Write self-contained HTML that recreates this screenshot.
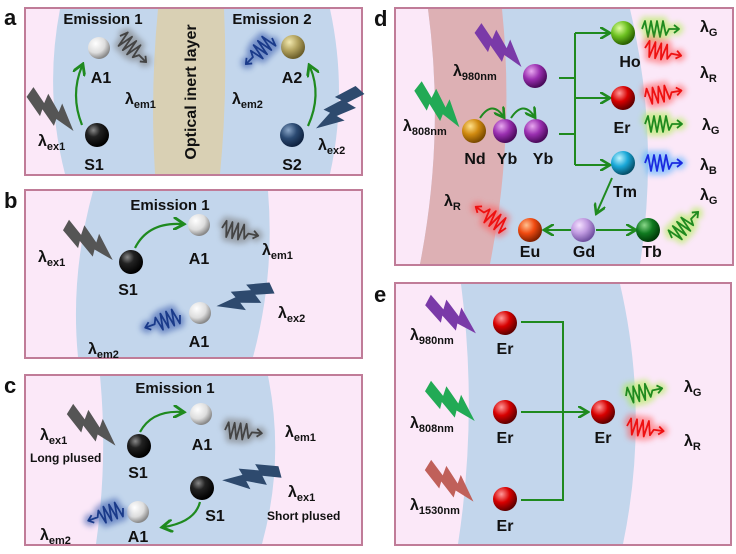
<!DOCTYPE html>
<html><head><meta charset="utf-8"><style>
html,body{margin:0;padding:0;background:#fff;}
svg{display:block;}
text{font-family:"Liberation Sans",Arial,sans-serif;font-weight:bold;fill:#111;}
.w{stroke-width:1.8}
.g{stroke-width:9;opacity:0.55}
</style></head><body>
<svg width="736" height="554" viewBox="0 0 736 554" xmlns="http://www.w3.org/2000/svg">
<defs>
<radialGradient id="gW" cx="0.35" cy="0.3" r="0.7"><stop offset="0" stop-color="#fff"/><stop offset="0.6" stop-color="#ddd"/><stop offset="1" stop-color="#888"/></radialGradient>
<radialGradient id="gK" cx="0.35" cy="0.3" r="0.7"><stop offset="0" stop-color="#888"/><stop offset="0.4" stop-color="#222"/><stop offset="1" stop-color="#000"/></radialGradient>
<radialGradient id="gGold" cx="0.35" cy="0.3" r="0.7"><stop offset="0" stop-color="#f2e9b0"/><stop offset="0.5" stop-color="#b4a460"/><stop offset="1" stop-color="#6b5e2a"/></radialGradient>
<radialGradient id="gNavy" cx="0.35" cy="0.3" r="0.7"><stop offset="0" stop-color="#8aa6c8"/><stop offset="0.5" stop-color="#2b4a72"/><stop offset="1" stop-color="#0f2240"/></radialGradient>
<radialGradient id="gPur" cx="0.35" cy="0.3" r="0.7"><stop offset="0" stop-color="#e8a8f0"/><stop offset="0.5" stop-color="#9a2fb0"/><stop offset="1" stop-color="#4a0a5a"/></radialGradient>
<radialGradient id="gOr" cx="0.35" cy="0.3" r="0.7"><stop offset="0" stop-color="#ffe08a"/><stop offset="0.5" stop-color="#d08a10"/><stop offset="1" stop-color="#7a4a00"/></radialGradient>
<radialGradient id="gRed" cx="0.35" cy="0.3" r="0.7"><stop offset="0" stop-color="#ff9a9a"/><stop offset="0.5" stop-color="#d80000"/><stop offset="1" stop-color="#600000"/></radialGradient>
<radialGradient id="gLG" cx="0.35" cy="0.3" r="0.7"><stop offset="0" stop-color="#e0ffa0"/><stop offset="0.5" stop-color="#6cc020"/><stop offset="1" stop-color="#2a6000"/></radialGradient>
<radialGradient id="gCy" cx="0.35" cy="0.3" r="0.7"><stop offset="0" stop-color="#c0f4ff"/><stop offset="0.5" stop-color="#1aa8d8"/><stop offset="1" stop-color="#05506a"/></radialGradient>
<radialGradient id="gLil" cx="0.35" cy="0.3" r="0.7"><stop offset="0" stop-color="#f4e0ff"/><stop offset="0.5" stop-color="#c09ae0"/><stop offset="1" stop-color="#7050a0"/></radialGradient>
<radialGradient id="gEu" cx="0.35" cy="0.3" r="0.7"><stop offset="0" stop-color="#ffc090"/><stop offset="0.5" stop-color="#f04a10"/><stop offset="1" stop-color="#802000"/></radialGradient>
<radialGradient id="gDG" cx="0.35" cy="0.3" r="0.7"><stop offset="0" stop-color="#8ad88a"/><stop offset="0.5" stop-color="#107a20"/><stop offset="1" stop-color="#003a08"/></radialGradient>
<filter id="blur" x="-50%" y="-80%" width="200%" height="260%"><feGaussianBlur stdDeviation="3"/></filter>
<path id="wave" d="M0,0 L3,-8 L6,8 L9,-8 L12,8 L15,-8 L18,8 L21,-8 L24,6 L27,0 L36,0 M32,-4 L37,0 L32,4" fill="none" stroke-linejoin="round"/>
<polygon id="bolt" points="0,-6 18,1 16,-9 35,0 33,-9 58,7 37,7 39,14 20,7 22,14 0,6"/>
<marker id="ah" markerWidth="6" markerHeight="6" refX="4" refY="3" orient="auto" markerUnits="strokeWidth"><path d="M0,0 L5,3 L0,6" fill="none" stroke="#1f8a1f" stroke-width="1.3"/></marker>
</defs>

<!-- ===== Panel a ===== -->
<rect x="25" y="8" width="337" height="167" fill="#fbe8f8" stroke="#c07c98" stroke-width="2"/>
<path d="M60,9 Q44,92 65,174 L330,174 Q348,92 330,9 Z" fill="#c3d6ec"/>
<path d="M158,9 Q150,92 155,174 L220,174 Q228,92 224,9 Z" fill="#d9d0b4"/>
<text x="190" y="92" font-size="16" text-anchor="middle" transform="rotate(-90 190 92)" dy="6">Optical inert layer</text>
<text x="103" y="24" font-size="15" text-anchor="middle">Emission 1</text>
<text x="272" y="24" font-size="15" text-anchor="middle">Emission 2</text>
<circle cx="99" cy="48" r="11" fill="url(#gW)"/>
<text x="101" y="83" font-size="16" text-anchor="middle">A1</text>
<circle cx="97" cy="135" r="12" fill="url(#gK)"/>
<text x="94" y="170" font-size="16" text-anchor="middle">S1</text>
<path d="M82,125 Q70,95 82,66" fill="none" stroke="#1f8a1f" stroke-width="2.2" marker-end="url(#ah)"/>
<use href="#bolt" fill="#555" transform="translate(30,92) rotate(35)"/>
<text x="38" y="146" font-size="16">λ<tspan font-size="11" dy="4">ex1</tspan></text>
<g transform="translate(120,36) rotate(45)"><use href="#wave" class="g" stroke="#777" filter="url(#blur)"/><use href="#wave" class="w" stroke="#444"/></g>
<text x="125" y="104" font-size="16">λ<tspan font-size="11" dy="4">em1</tspan></text>
<circle cx="293" cy="47" r="12" fill="url(#gGold)"/>
<text x="292" y="83" font-size="16" text-anchor="middle">A2</text>
<circle cx="292" cy="135" r="12" fill="url(#gNavy)"/>
<text x="292" y="170" font-size="16" text-anchor="middle">S2</text>
<path d="M308,126 Q322,95 310,67" fill="none" stroke="#1f8a1f" stroke-width="2.2" marker-end="url(#ah)"/>
<use href="#bolt" fill="#2e4a6e" transform="translate(360,90) rotate(132)"/>
<text x="318" y="150" font-size="16">λ<tspan font-size="11" dy="4">ex2</tspan></text>
<g transform="translate(272,38) rotate(135)"><use href="#wave" class="g" stroke="#3355aa" filter="url(#blur)"/><use href="#wave" class="w" stroke="#1a3a8a"/></g>
<text x="232" y="104" font-size="16">λ<tspan font-size="11" dy="4">em2</tspan></text>
<text x="4" y="25" font-size="22">a</text>

<!-- ===== Panel b ===== -->
<rect x="25" y="190" width="337" height="168" fill="#fbe8f8" stroke="#c07c98" stroke-width="2"/>
<path d="M93,191 Q70,275 78,357 L253,357 Q275,275 268,191 Z" fill="#c3d6ec"/>
<text x="170" y="210" font-size="15" text-anchor="middle">Emission 1</text>
<circle cx="131" cy="262" r="12" fill="url(#gK)"/>
<text x="128" y="295" font-size="16" text-anchor="middle">S1</text>
<path d="M135,248 Q148,222 182,224" fill="none" stroke="#1f8a1f" stroke-width="2.2" marker-end="url(#ah)"/>
<circle cx="199" cy="225" r="11" fill="url(#gW)"/>
<text x="199" y="264" font-size="16" text-anchor="middle">A1</text>
<use href="#bolt" fill="#555" transform="translate(66,225) rotate(30)"/>
<text x="38" y="262" font-size="16">λ<tspan font-size="11" dy="4">ex1</tspan></text>
<g transform="translate(222,228) rotate(12)"><use href="#wave" class="g" stroke="#777" filter="url(#blur)"/><use href="#wave" class="w" stroke="#444"/></g>
<text x="262" y="255" font-size="16">λ<tspan font-size="11" dy="4">em1</tspan></text>
<circle cx="200" cy="313" r="11" fill="url(#gW)"/>
<text x="199" y="347" font-size="16" text-anchor="middle">A1</text>
<use href="#bolt" fill="#2e4a6e" transform="translate(272,288) rotate(155)"/>
<text x="278" y="318" font-size="16">λ<tspan font-size="11" dy="4">ex2</tspan></text>
<g transform="translate(180,315) rotate(160)"><use href="#wave" class="g" stroke="#3355aa" filter="url(#blur)"/><use href="#wave" class="w" stroke="#1a3a8a"/></g>
<text x="88" y="354" font-size="16">λ<tspan font-size="11" dy="4">em2</tspan></text>
<text x="4" y="208" font-size="22">b</text>

<!-- ===== Panel c ===== -->
<rect x="25" y="375" width="337" height="170" fill="#fbe8f8" stroke="#c07c98" stroke-width="2"/>
<path d="M100,376 Q108,460 96,544 L262,544 Q285,460 268,376 Z" fill="#c3d6ec"/>
<text x="175" y="393" font-size="15" text-anchor="middle">Emission 1</text>
<circle cx="139" cy="446" r="12" fill="url(#gK)"/>
<text x="138" y="478" font-size="16" text-anchor="middle">S1</text>
<path d="M140,432 Q152,410 182,412" fill="none" stroke="#1f8a1f" stroke-width="2.2" marker-end="url(#ah)"/>
<circle cx="201" cy="414" r="11" fill="url(#gW)"/>
<text x="202" y="450" font-size="16" text-anchor="middle">A1</text>
<use href="#bolt" fill="#555" transform="translate(70,409) rotate(32)"/>
<text x="40" y="440" font-size="16">λ<tspan font-size="11" dy="4">ex1</tspan></text>
<text x="30" y="462" font-size="12">Long plused</text>
<g transform="translate(225,430) rotate(5)"><use href="#wave" class="g" stroke="#777" filter="url(#blur)"/><use href="#wave" class="w" stroke="#444"/></g>
<text x="285" y="437" font-size="16">λ<tspan font-size="11" dy="4">em1</tspan></text>
<circle cx="202" cy="488" r="12" fill="url(#gK)"/>
<text x="215" y="521" font-size="16" text-anchor="middle">S1</text>
<path d="M200,502 Q195,522 164,527" fill="none" stroke="#1f8a1f" stroke-width="2.2" marker-end="url(#ah)"/>
<circle cx="138" cy="512" r="11" fill="url(#gW)"/>
<text x="138" y="542" font-size="16" text-anchor="middle">A1</text>
<use href="#bolt" fill="#2e4a6e" transform="translate(280,472) rotate(165)"/>
<text x="288" y="497" font-size="16">λ<tspan font-size="11" dy="4">ex1</tspan></text>
<text x="267" y="520" font-size="12">Short plused</text>
<g transform="translate(123,508) rotate(160)"><use href="#wave" class="g" stroke="#3355aa" filter="url(#blur)"/><use href="#wave" class="w" stroke="#1a3a8a"/></g>
<text x="40" y="540" font-size="16">λ<tspan font-size="11" dy="4">em2</tspan></text>
<text x="4" y="393" font-size="22">c</text>

<!-- ===== Panel d ===== -->
<rect x="395" y="8" width="338" height="257" fill="#fbe8f8" stroke="#c07c98" stroke-width="2"/>
<path d="M428,9 Q445,136 420,264 L640,264 Q660,136 630,9 Z" fill="#c3d6ec"/>
<path d="M428,9 Q445,136 420,264 L490,264 Q515,136 502,9 Z" fill="#ddb0b4"/>
<use href="#bolt" fill="#7a3aa8" transform="translate(478,28) rotate(35)"/>
<text x="453" y="76" font-size="16">λ<tspan font-size="11" dy="4">980nm</tspan></text>
<circle cx="535" cy="76" r="12" fill="url(#gPur)"/>
<use href="#bolt" fill="#22aa55" transform="translate(418,86) rotate(38)"/>
<text x="403" y="131" font-size="16">λ<tspan font-size="11" dy="4">808nm</tspan></text>
<circle cx="474" cy="131" r="12" fill="url(#gOr)"/>
<circle cx="505" cy="131" r="12" fill="url(#gPur)"/>
<circle cx="536" cy="131" r="12" fill="url(#gPur)"/>
<text x="475" y="164" font-size="16" text-anchor="middle">Nd</text>
<text x="507" y="164" font-size="16" text-anchor="middle">Yb</text>
<text x="543" y="164" font-size="16" text-anchor="middle">Yb</text>
<path d="M480,118 Q492,100 503,116" fill="none" stroke="#1f8a1f" stroke-width="2" marker-end="url(#ah)"/>
<path d="M511,118 Q523,100 534,116" fill="none" stroke="#1f8a1f" stroke-width="2" marker-end="url(#ah)"/>
<g fill="none" stroke="#1f8a1f" stroke-width="2">
<path d="M559,78 L575,78 M559,134 L575,134 M575,33 L575,165"/>
<path d="M575,33 L608,33" marker-end="url(#ah)"/>
<path d="M575,98 L608,98" marker-end="url(#ah)"/>
<path d="M575,165 L608,165" marker-end="url(#ah)"/>
<path d="M612,178 L597,212" marker-end="url(#ah)"/>
<path d="M572,230 L546,230" marker-end="url(#ah)"/>
<path d="M596,230 L634,230" marker-end="url(#ah)"/>
</g>
<circle cx="623" cy="33" r="12" fill="url(#gLG)"/>
<text x="630" y="67" font-size="16" text-anchor="middle">Ho</text>
<circle cx="623" cy="98" r="12" fill="url(#gRed)"/>
<text x="622" y="133" font-size="16" text-anchor="middle">Er</text>
<circle cx="623" cy="163" r="12" fill="url(#gCy)"/>
<text x="625" y="197" font-size="16" text-anchor="middle">Tm</text>
<circle cx="583" cy="230" r="12" fill="url(#gLil)"/>
<text x="584" y="257" font-size="16" text-anchor="middle">Gd</text>
<circle cx="530" cy="230" r="12" fill="url(#gEu)"/>
<text x="530" y="257" font-size="16" text-anchor="middle">Eu</text>
<circle cx="648" cy="230" r="12" fill="url(#gDG)"/>
<text x="652" y="257" font-size="16" text-anchor="middle">Tb</text>
<g transform="translate(642,29)"><use href="#wave" class="g" stroke="#aaee44" filter="url(#blur)"/><use href="#wave" class="w" stroke="#1f8a1f"/></g>
<g transform="translate(645,48) rotate(12)"><use href="#wave" class="g" stroke="#ff5555" filter="url(#blur)"/><use href="#wave" class="w" stroke="#ee1111"/></g>
<g transform="translate(645,97) rotate(-10)"><use href="#wave" class="g" stroke="#ff5555" filter="url(#blur)"/><use href="#wave" class="w" stroke="#ee1111"/></g>
<g transform="translate(645,124)"><use href="#wave" class="g" stroke="#aaee44" filter="url(#blur)"/><use href="#wave" class="w" stroke="#1f8a1f"/></g>
<g transform="translate(645,163)"><use href="#wave" class="g" stroke="#44aaff" filter="url(#blur)"/><use href="#wave" class="w" stroke="#1a2ae0"/></g>
<g transform="translate(672,238) rotate(-45)"><use href="#wave" class="g" stroke="#aaee44" filter="url(#blur)"/><use href="#wave" class="w" stroke="#1f8a1f"/></g>
<g transform="translate(506,228) rotate(-145)"><use href="#wave" class="g" stroke="#ff5555" filter="url(#blur)"/><use href="#wave" class="w" stroke="#ee1111"/></g>
<text x="700" y="32" font-size="16">λ<tspan font-size="11" dy="4">G</tspan></text>
<text x="700" y="78" font-size="16">λ<tspan font-size="11" dy="4">R</tspan></text>
<text x="702" y="130" font-size="16">λ<tspan font-size="11" dy="4">G</tspan></text>
<text x="700" y="170" font-size="16">λ<tspan font-size="11" dy="4">B</tspan></text>
<text x="700" y="200" font-size="16">λ<tspan font-size="11" dy="4">G</tspan></text>
<text x="444" y="206" font-size="16">λ<tspan font-size="11" dy="4">R</tspan></text>
<text x="374" y="26" font-size="22">d</text>

<!-- ===== Panel e ===== -->
<rect x="395" y="283" width="336" height="262" fill="#fbe8f8" stroke="#c07c98" stroke-width="2"/>
<path d="M461,284 Q478,414 458,544 L623,544 Q650,414 620,284 Z" fill="#c3d6ec"/>
<use href="#bolt" fill="#7a3aa8" transform="translate(428,300) rotate(28)"/>
<use href="#bolt" fill="#22aa55" transform="translate(428,386) rotate(30)"/>
<use href="#bolt" fill="#c0605a" transform="translate(428,465) rotate(32)"/>
<text x="410" y="340" font-size="16">λ<tspan font-size="11" dy="4">980nm</tspan></text>
<text x="410" y="428" font-size="16">λ<tspan font-size="11" dy="4">808nm</tspan></text>
<text x="410" y="510" font-size="16">λ<tspan font-size="11" dy="4">1530nm</tspan></text>
<circle cx="505" cy="323" r="12" fill="url(#gRed)"/>
<circle cx="505" cy="412" r="12" fill="url(#gRed)"/>
<circle cx="505" cy="499" r="12" fill="url(#gRed)"/>
<circle cx="603" cy="412" r="12" fill="url(#gRed)"/>
<text x="505" y="354" font-size="16" text-anchor="middle">Er</text>
<text x="505" y="443" font-size="16" text-anchor="middle">Er</text>
<text x="505" y="531" font-size="16" text-anchor="middle">Er</text>
<text x="603" y="443" font-size="16" text-anchor="middle">Er</text>
<g fill="none" stroke="#1f8a1f" stroke-width="2">
<path d="M521,322 L563,322 L563,500 L521,500"/>
<path d="M521,412 L586,412" marker-end="url(#ah)"/>
</g>
<g transform="translate(626,396) rotate(-12)"><use href="#wave" class="g" stroke="#aaee44" filter="url(#blur)"/><use href="#wave" class="w" stroke="#1f8a1f"/></g>
<g transform="translate(627,426) rotate(8)"><use href="#wave" class="g" stroke="#ff5555" filter="url(#blur)"/><use href="#wave" class="w" stroke="#ee1111"/></g>
<text x="684" y="392" font-size="16">λ<tspan font-size="11" dy="4">G</tspan></text>
<text x="684" y="446" font-size="16">λ<tspan font-size="11" dy="4">R</tspan></text>
<text x="374" y="302" font-size="22">e</text>
</svg>
</body></html>
